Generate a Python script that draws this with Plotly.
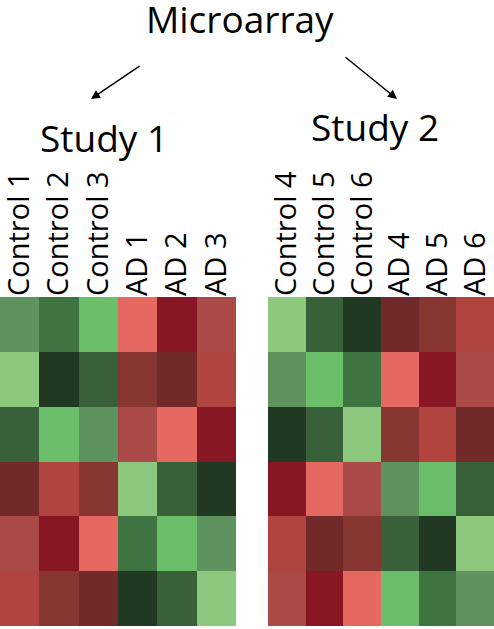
import plotly.graph_objects as go

# Discrete expression-level palette (index -> colour)
level_colors = [
    "#8CC97F",  # 0 light green
    "#6BBF6A",  # 1 bright green
    "#5E9360",  # 2 muted green
    "#3E7342",  # 3 green
    "#386039",  # 4 dark green
    "#213823",  # 5 darkest green
    "#712A29",  # 6 maroon
    "#883632",  # 7 brick
    "#891623",  # 8 crimson
    "#AA4A46",  # 9 muted red
    "#B1443E",  # 10 red
    "#E56861",  # 11 salmon
]

study1_samples = ["Control 1", "Control 2", "Control 3", "AD 1", "AD 2", "AD 3"]
study2_samples = ["Control 4", "Control 5", "Control 6", "AD 4", "AD 5", "AD 6"]
genes = ["g1", "g2", "g3", "g4", "g5", "g6"]

study1_levels = [
    [2, 3, 1, 11, 8, 9],
    [0, 5, 4, 7, 6, 10],
    [4, 1, 2, 9, 11, 8],
    [6, 10, 7, 0, 4, 5],
    [9, 8, 11, 3, 1, 2],
    [10, 7, 6, 5, 4, 0],
]
study2_levels = [
    [0, 4, 5, 6, 7, 10],
    [2, 1, 3, 11, 8, 9],
    [5, 4, 0, 7, 10, 6],
    [8, 11, 9, 2, 1, 4],
    [10, 6, 7, 4, 5, 0],
    [9, 8, 11, 1, 3, 2],
]

n = len(level_colors)
colorscale = []
for i, c in enumerate(level_colors):
    colorscale.append([i / n, c])
    colorscale.append([(i + 1) / n, c])

fig = go.Figure()
fig.add_trace(go.Heatmap(z=study1_levels, x=study1_samples, y=genes,
                         colorscale=colorscale, zmin=-0.5, zmax=n - 0.5,
                         showscale=False, xaxis="x", yaxis="y", hoverinfo="skip"))
fig.add_trace(go.Heatmap(z=study2_levels, x=study2_samples, y=genes,
                         colorscale=colorscale, zmin=-0.5, zmax=n - 0.5,
                         showscale=False, xaxis="x2", yaxis="y2", hoverinfo="skip"))

W, H = 494, 629
ydom = [(629 - 626) / H, (629 - 297) / H]
tickfont = dict(family="Open Sans", size=29, color="black")
common_x = dict(side="top", tickangle=-90, tickfont=tickfont, showgrid=False,
                zeroline=False, ticks="", automargin=False, fixedrange=True)
common_y = dict(autorange="reversed", showticklabels=False, showgrid=False,
                zeroline=False, automargin=False, fixedrange=True)
fig.update_layout(
    width=W, height=H, margin=dict(l=0, r=0, t=0, b=0),
    paper_bgcolor="white", plot_bgcolor="white",
    xaxis=dict(domain=[0, 236 / W], anchor="y", **common_x),
    yaxis=dict(domain=ydom, anchor="x", **common_y),
    xaxis2=dict(domain=[268 / W, 1], anchor="y2", **common_x),
    yaxis2=dict(domain=ydom, anchor="x2", **common_y),
    showlegend=False,
)

def px(x, y):
    return x / W, 1 - y / H

anns = []
for text, x, y, size in [("Microarray", 240, 19, 37), ("Study 1", 104, 137, 37),
                         ("Study 2", 375, 127, 37)]:
    xx, yy = px(x, y)
    anns.append(dict(text=text, x=xx, y=yy, xref="paper", yref="paper",
                     xanchor="center", yanchor="middle", showarrow=False,
                     font=dict(family="Open Sans", size=size, color="black")))
for (hx, hy, tx, ty) in [(91, 99, 141, 65), (397, 99, 344, 56)]:
    xx, yy = px(hx, hy)
    anns.append(dict(text="", x=xx, y=yy, xref="paper", yref="paper",
                     ax=tx - hx, ay=ty - hy, axref="pixel", ayref="pixel",
                     showarrow=True, arrowhead=2, arrowsize=1.2, arrowwidth=1.5,
                     arrowcolor="black"))
fig.update_layout(annotations=anns)

fig.write_html("out.html", config={"displayModeBar": False},
               post_script="document.body.style.margin='0';document.body.style.padding='0';")
